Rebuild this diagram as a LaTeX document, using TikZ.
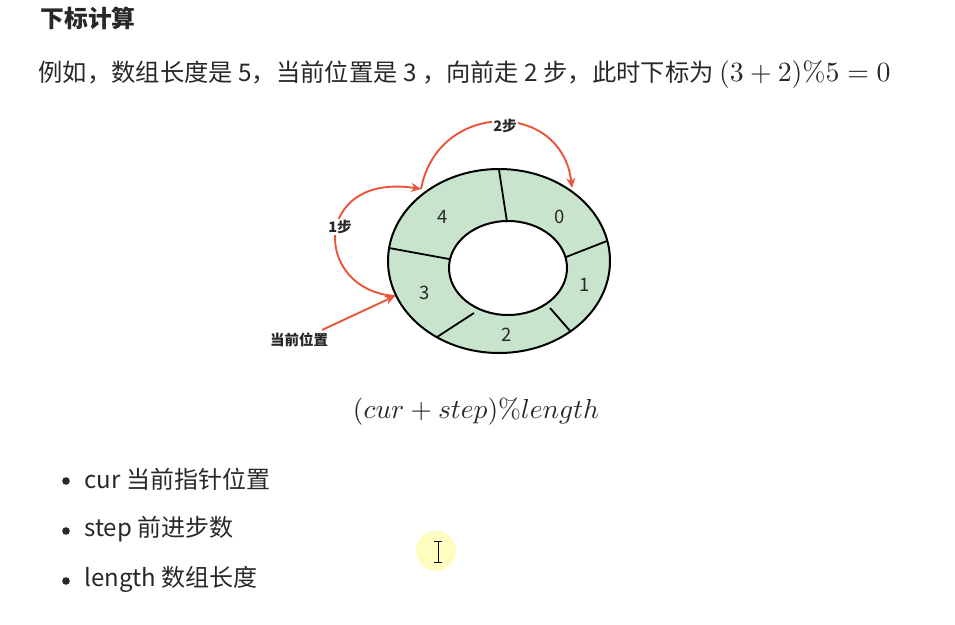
\documentclass[tikz,border=0pt]{standalone}
\usepackage{graphicx}
\usepackage[no-math]{fontspec}
\setmainfont{Noto Sans CJK SC}
\usetikzlibrary{arrows.meta}
\definecolor{ringgreen}{RGB}{200,228,204}
\definecolor{stepred}{RGB}{234,84,56}
\definecolor{txtgray}{RGB}{40,40,40}
\newcommand{\bigmath}[2]{\scalebox{#1}{\fontsize{10}{12}\selectfont$#2$}}
\begin{document}
\begin{tikzpicture}[x=1pt,y=-1pt,text=txtgray,
  steparrow/.style={draw=stepred,line width=1.9pt,-{Stealth[length=10pt,width=9pt]}},
  steplabel/.style={fill=white,inner sep=1pt,font=\fontsize{14.5}{14.5}\selectfont\bfseries},
  cell/.style={font=\fontsize{18.5}{18.5}\selectfont},
  item/.style={anchor=west,font=\fontsize{24}{24}\selectfont}]
\useasboundingbox (0,0) rectangle (955,624);
\node[anchor=west,font=\fontsize{23.8}{24}\selectfont\bfseries] (title) at (37,18) {下标计算};
\node[anchor=west,font=\fontsize{24.3}{25}\selectfont] (example) at (35,75) {例如，数组长度是 5，当前位置是 3 ，向前走 2 步，此时下标为 \bigmath{2.78}{(3+2)\%5=0}};
% ring
\fill[ringgreen,even odd rule] (499,261) ellipse [x radius=111,y radius=92] (508,268) ellipse [x radius=59,y radius=47];
\draw[line width=2pt] (499,261) ellipse [x radius=111,y radius=92];
\draw[line width=2pt] (508,268) ellipse [x radius=59,y radius=47];
\foreach \a/\b in {{(499,170)}/{(507,222)},{(607,241)}/{(566,257)},{(571,332)}/{(550,308)},{(437,337)}/{(474,313)},{(389,248)}/{(449,259)}}
  \draw[line width=1.8pt] \a -- \b;
\node[cell] (c0) at (560,217) {0};
\node[cell] (c1) at (585,285) {1};
\node[cell] (c2) at (507,335) {2};
\node[cell] (c3) at (425,293) {3};
\node[cell] (c4) at (443,217) {4};
% arrows
\coordinate (in3) at (395,296);
\coordinate (in4) at (421,189);
\coordinate (in0) at (572,188);
\coordinate (cur) at (322,330);
\draw[steparrow] (in4) .. controls (438,100) and (562,100) .. (in0);
\node[steplabel] (two) at (505,126) {2步};
\draw[steparrow] (in3) .. controls (312,290) and (312,172) .. (in4);
\node[steplabel] (one) at (340,227) {1步};
\node[steplabel,fill=none] (pos) at (299,340) {当前位置};
\draw[steparrow] (cur) -- (in3);
\node (formula) at (476,412) {\bigmath{2.75}{(cur+step)\%length}};
% list
\foreach \y/\t in {481/cur 当前指针位置,531/step 前进步数,581/length 数组长度}{
  \fill[txtgray] (66,\y) circle (3.8);
  \node[item] at (81,\y-2) {\t};
}
% cursor
\fill[yellow!25] (436,551) circle (20);
\draw[line width=1pt] (438,541) -- (438,562) (434,541) -- (442,541) (434,562) -- (442,562);
\end{tikzpicture}
\end{document}
